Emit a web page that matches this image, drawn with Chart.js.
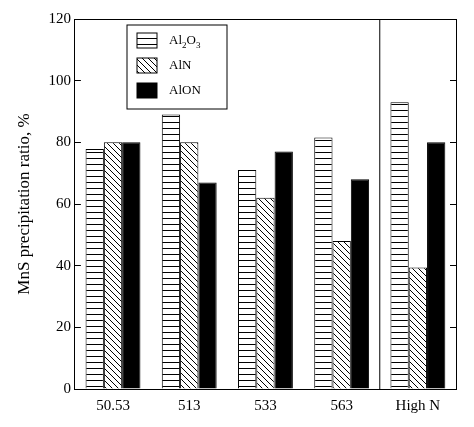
<!DOCTYPE html>
<html>
<head>
<script src="https://cdn.jsdelivr.net/npm/chart.js@4"></script>
<style>
  body { margin: 0; background: #fff; }
  #wrap { width: 474px; height: 427px; }
</style>
</head>
<body>
<div id="wrap"><canvas id="c"></canvas></div>
<script>
// Chart data
const categories = ['50.53', '513', '533', '563', 'High N'];
const al2o3 = [77.8, 89, 71, 81.6, 93];
const aln = [80, 80, 62, 48, 39.4];
const alon = [80, 67, 77, 68, 80];
const yTicks = [0, 20, 40, 60, 80, 100, 120];

function makePattern(kind) {
    const p = document.createElement('canvas');
    p.width = 6; p.height = 6;
    const g = p.getContext('2d');
    g.fillStyle = '#fff';
    g.fillRect(0, 0, 6, 6);
    g.strokeStyle = '#000';
    g.lineWidth = 1;
    g.beginPath();
    if (kind === 'h') {
        g.moveTo(0, 2.5); g.lineTo(6, 2.5);
    } else {
        g.moveTo(-1, -1); g.lineTo(7, 7);
        g.moveTo(-4, 2); g.lineTo(4, 10);
        g.moveTo(2, -4); g.lineTo(10, 4);
    }
    g.stroke();
    return document.getElementById('c').getContext('2d').createPattern(p, 'repeat');
}

const hPat = makePattern('h');
const dPat = makePattern('d');
const font = 'Liberation Serif';

// separator line and legend box
const extras = {
    id: 'extras',
    afterDraw(chart) {
        const ctx = chart.ctx;
        const x = chart.scales.x, y = chart.scales.y;
        ctx.save();
        ctx.strokeStyle = '#000';
        ctx.lineWidth = 1;
        const sx = (x.getPixelForValue(3) + x.getPixelForValue(4)) / 2;
        ctx.beginPath();
        ctx.moveTo(sx, y.top); ctx.lineTo(sx, y.bottom);
        ctx.stroke();

        const lx = 127, ly = 25;
        ctx.strokeRect(lx, ly, 100, 84);
        const fills = [hPat, dPat, '#000'];
        ctx.font = '13px ' + font;
        ctx.fillStyle = '#000';
        ctx.textBaseline = 'middle';
        for (let i = 0; i < 3; i++) {
            const ry = ly + 8 + i * 25;
            ctx.fillStyle = fills[i];
            ctx.fillRect(lx + 10, ry, 20, 15);
            ctx.strokeRect(lx + 10, ry, 20, 15);
            ctx.fillStyle = '#000';
            const ty = ry + 8;
            if (i === 0) {
                let tx = lx + 42;
                ctx.fillText('Al', tx, ty); tx += ctx.measureText('Al').width;
                ctx.font = '9px ' + font;
                ctx.fillText('2', tx, ty + 5); tx += ctx.measureText('2').width;
                ctx.font = '13px ' + font;
                ctx.fillText('O', tx, ty); tx += ctx.measureText('O').width;
                ctx.font = '9px ' + font;
                ctx.fillText('3', tx, ty + 5);
                ctx.font = '13px ' + font;
            } else {
                ctx.fillText(i === 1 ? 'AlN' : 'AlON', lx + 42, ty);
            }
        }
        ctx.restore();
    }
};

new Chart(document.getElementById('c'), {
    type: 'bar',
    data: {
        labels: categories,
        datasets: [
            { label: 'Al2O3', data: al2o3, backgroundColor: hPat },
            { label: 'AlN', data: aln, backgroundColor: dPat },
            { label: 'AlON', data: alon, backgroundColor: '#000' }
        ].map(d => Object.assign(d, {
            borderColor: '#000', borderWidth: 1,
            categoryPercentage: 0.72, barPercentage: 1
        }))
    },
    options: {
        responsive: true,
        maintainAspectRatio: false,
        animation: false,
        layout: { padding: { top: 14, right: 18, left: 10, bottom: 4 } },
        plugins: { legend: { display: false }, tooltip: { enabled: false } },
        scales: {
            x: {
                grid: { display: false, drawTicks: false },
                border: { color: '#000', width: 1 },
                ticks: { color: '#000', font: { family: font, size: 15 }, padding: 8 }
            },
            y: {
                min: 0, max: 120,
                afterBuildTicks(s) { s.ticks = yTicks.map(v => ({ value: v })); },
                grid: { display: true, drawOnChartArea: false, tickLength: -6, color: '#000' },
                border: { color: '#000', width: 1 },
                ticks: { color: '#000', font: { family: font, size: 15 }, padding: 10 },
                title: { display: true, text: 'MnS precipitation ratio, %', color: '#000', font: { family: font, size: 17 } }
            },
            y2: {
                position: 'right', min: 0, max: 120,
                afterBuildTicks(s) { s.ticks = yTicks.map(v => ({ value: v })); },
                grid: { display: true, drawOnChartArea: false, tickLength: -6, color: '#000' },
                border: { color: '#000', width: 1 },
                ticks: { display: false }
            },
            x2: {
                position: 'top', type: 'category', labels: categories,
                grid: { display: false, drawTicks: false },
                border: { color: '#000', width: 1 },
                ticks: { display: false }
            }
        }
    },
    plugins: [extras]
});
</script>
</body>
</html>
